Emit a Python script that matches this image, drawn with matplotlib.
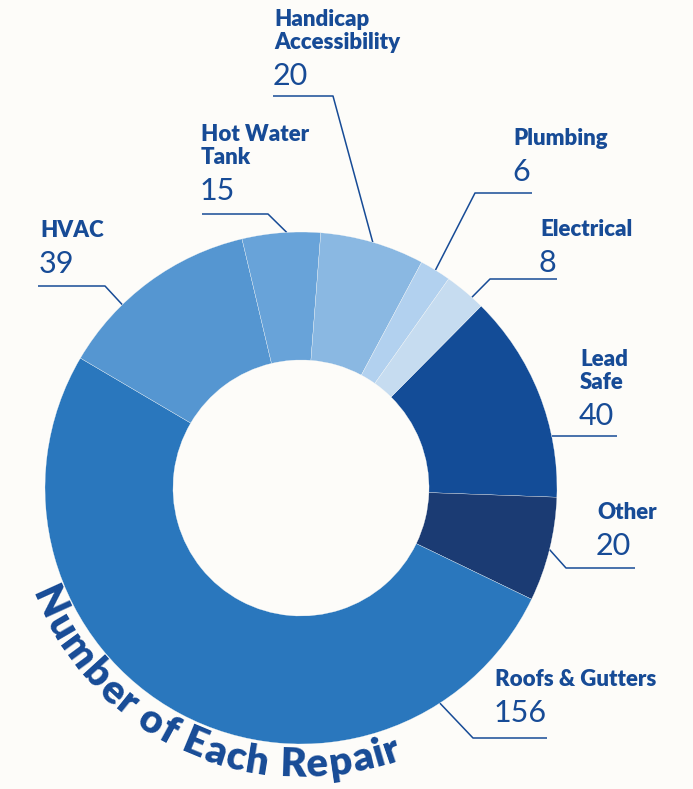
import numpy as np
import matplotlib
matplotlib.use("Agg")
import matplotlib.pyplot as plt
from matplotlib import font_manager as fm
from matplotlib.ft2font import FT2Font

# ---- data (clockwise from the top-right) ----
LABELS = ["Lead\nSafe", "Other", "Roofs & Gutters", "HVAC", "Hot Water\nTank",
          "Handicap\nAccessibility", "Plumbing", "Electrical"]
COUNTS = [40, 20, 156, 39, 15, 20, 6, 8]
COLORS = ["#134c97", "#1b3b73", "#2a77bd", "#5596d1", "#68a3d9",
          "#8ab8e2", "#b2d1ef", "#c6dcf0"]
TITLE = "Number of Each Repair"

BG = "#fdfcf9"
TXT = "#174b96"
W, H = 693, 789
CX, CY, R = 301, 488, 256
NAME_W = 800


def Y(y):
    return H - y


# label layout in image pixels: text x, first baseline y, leader y,
# elbow x (None = straight horizontal), leader end x, anchor fraction in wedge
LAYOUT = {
    "Lead\nSafe": (580, 366, None, None, 617, 0.29),
    "Other": (597, 519, 568, 566, 635, 0.5),
    "Roofs & Gutters": (495, 686, 738, 473, 547, 0.83),
    "HVAC": (40, 237, 286, 105, 38, 0.67),
    "Hot Water\nTank": (201, 141, 214, 268, 202, 0.43),
    "Handicap\nAccessibility": (274, 26, 96, 333, 273, 0.5),
    "Plumbing": (513, 145, 193, 475, 532, 0.5),
    "Electrical": (540, 236, 279, 490, 557, 0.3),
}

fig = plt.figure(figsize=(W / 100, H / 100), dpi=100)
fig.patch.set_facecolor(BG)
ax = fig.add_axes([0, 0, 1, 1])
ax.set_facecolor(BG)

wedges, _ = ax.pie(COUNTS, colors=COLORS, radius=R, center=(CX, Y(CY)),
                   startangle=45.3, counterclock=False,
                   wedgeprops=dict(width=R * 0.5, edgecolor=BG, linewidth=0.2))
ax.set_xlim(0, W)
ax.set_ylim(0, H)
ax.set_aspect("equal")
ax.axis("off")

for w, lab, n in zip(wedges, LABELS, COUNTS):
    tx, ty, ly, ex, end, frac = LAYOUT[lab]
    lines = lab.split("\n")
    for k, s in enumerate(lines):
        ax.text(tx, Y(ty + 23 * k), s, family="Lato", weight=NAME_W,
                fontsize=16, color=TXT, ha="left", va="baseline")
    nb = ty + 23 * (len(lines) - 1) + 36
    ax.text(tx - 1, Y(nb), str(n), family="Lato", weight="normal",
            fontsize=22, color=TXT, ha="left", va="baseline")

    ang = np.deg2rad(w.theta1 + frac * (w.theta2 - w.theta1))
    axp, ayp = CX + R * np.cos(ang), Y(CY) + R * np.sin(ang)
    if ex is None:
        xs, ys = [axp, end], [ayp, ayp]
    else:
        xs, ys = [axp, ex, end], [ayp, Y(ly), Y(ly)]
    ax.plot(xs, ys, color=TXT, lw=1.1, solid_capstyle="butt", zorder=0)

# ---- curved title along the outside of the ring ----
FS = 29
fpath = fm.findfont(fm.FontProperties(family="Lato", weight=NAME_W))
ft = FT2Font(fpath)
ft.set_size(FS, 100)
adv = np.array([ft.load_char(ord(c)).linearHoriAdvance / 65536.0 for c in TITLE])
centers = np.cumsum(adv) - adv / 2
a0, a1 = 204.4, 289.0
angs = a0 + (centers - centers[0]) / (centers[-1] - centers[0]) * (a1 - a0)
r_base = 289
for c, a in zip(TITLE, angs):
    if c == " ":
        continue
    t = np.deg2rad(a)
    ax.text(CX + r_base * np.cos(t), Y(CY) + r_base * np.sin(t), c,
            family="Lato", weight=NAME_W, fontsize=FS, color=TXT,
            rotation=a + 90, rotation_mode="anchor",
            ha="center", va="baseline")

fig.savefig("out.png", dpi=100, facecolor=BG)
